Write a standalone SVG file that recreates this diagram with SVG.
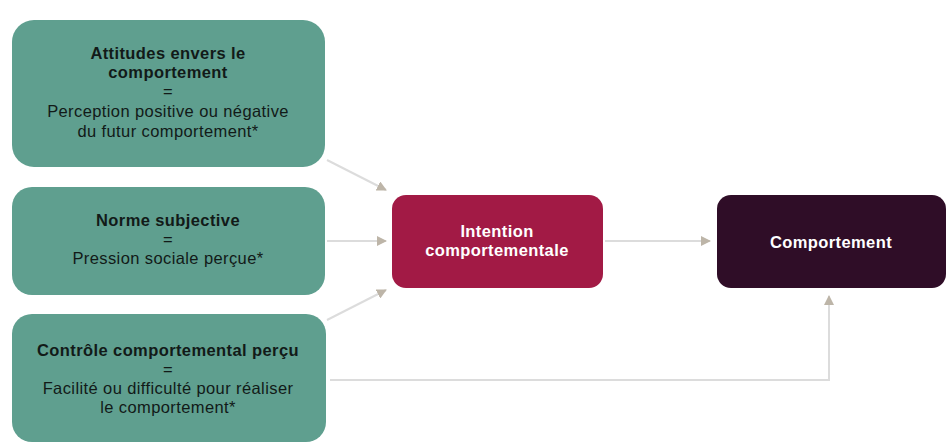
<svg xmlns="http://www.w3.org/2000/svg" width="948" height="444" viewBox="0 0 948 444">
<style>
.src{fill:#5f9f8f}
.t{font-family:"Liberation Sans",Arial,sans-serif;font-size:16.5px;letter-spacing:0.4px;fill:#121a18;text-anchor:middle}
.b{font-weight:bold}
.w{font-family:"Liberation Sans",Arial,sans-serif;font-size:16.5px;letter-spacing:0.4px;font-weight:bold;fill:#ffffff;text-anchor:middle}
.c{stroke:#dcdcdc;stroke-width:2;fill:none}
</style>
<defs>
<marker id="ah" viewBox="0 0 10 10" refX="9" refY="5" markerWidth="5" markerHeight="5" orient="auto">
<path d="M0,0 L10,5 L0,10 z" fill="#bdb5a8"/>
</marker>
</defs>
<g id="connectors">
<path class="c" d="M327,160 L386,190" marker-end="url(#ah)"/>
<path class="c" d="M327,241 L386,241" marker-end="url(#ah)"/>
<path class="c" d="M327,320 L386,290" marker-end="url(#ah)"/>
<path class="c" d="M605,241 L710,241" marker-end="url(#ah)"/>
<path class="c" d="M330,380 L829,380 L829,296" marker-end="url(#ah)"/>
</g>
<g id="attitudes">
<rect class="src" x="12" y="20" width="313" height="147" rx="22"/>
<text class="t b" x="168" y="59">Attitudes envers le</text>
<text class="t b" x="168" y="78">comportement</text>
<text class="t" x="168" y="97">=</text>
<text class="t" x="168" y="117">Perception positive ou négative</text>
<text class="t" x="168" y="137">du futur comportement*</text>
</g>
<g id="norme">
<rect class="src" x="12" y="187" width="313" height="108" rx="20"/>
<text class="t b" x="168" y="226">Norme subjective</text>
<text class="t" x="168" y="245">=</text>
<text class="t" x="168" y="264">Pression sociale perçue*</text>
</g>
<g id="controle">
<rect class="src" x="12" y="314" width="314" height="128" rx="20"/>
<text class="t b" x="168" y="356">Contrôle comportemental perçu</text>
<text class="t" x="168" y="375">=</text>
<text class="t" x="168" y="394">Facilité ou difficulté pour réaliser</text>
<text class="t" x="168" y="413">le comportement*</text>
</g>
<g id="intention">
<rect x="392" y="195" width="211" height="93" rx="14" fill="#a21a45"/>
<text class="w" x="497" y="237">Intention</text>
<text class="w" x="497" y="256">comportementale</text>
</g>
<g id="comportement">
<rect x="717" y="195" width="229" height="93" rx="14" fill="#2f0d27"/>
<text class="w" x="831" y="248">Comportement</text>
</g>
</svg>
